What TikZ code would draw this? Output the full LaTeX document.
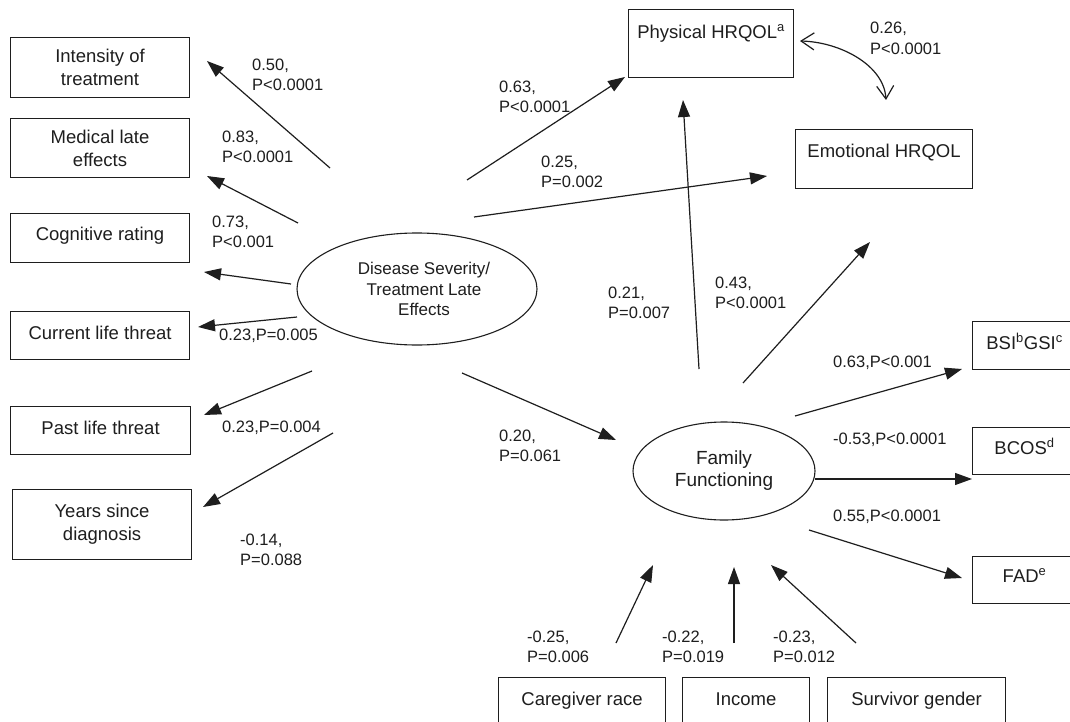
\documentclass[tikz,border=0pt]{standalone}
\usepackage{fontspec}
\setmainfont{Liberation Sans}
\usetikzlibrary{arrows.meta,shapes.geometric}
\definecolor{ink}{HTML}{1E1E1E}
\newcommand{\boxfont}{\fontsize{18.5}{23}\selectfont}
\newcommand{\lblfont}{\fontsize{16.5}{20.5}\selectfont}
\begin{document}
\begin{tikzpicture}[x=1pt,y=-1pt,
  every node/.style={text=ink},
  obsbox/.style={draw=ink, line width=1.1pt, inner sep=0pt, anchor=north west, font=\boxfont},
  lat/.style={draw=ink, ellipse, line width=1.1pt, inner sep=0pt, align=center},
  lbl/.style={inner sep=0pt, anchor=west, align=left, font=\lblfont},
  arr/.style={draw=ink, line width=1.2pt, -{Triangle[length=17pt,width=12pt]}},
  dbl/.style={draw=ink, line width=1.2pt, {Straight Barb[length=13pt,width=17pt]}-{Straight Barb[length=13pt,width=17pt]}}
]
\useasboundingbox (0,0) rectangle (1070,722);
\fill[white] (0,0) rectangle (1070,722);
\clip (0,0) rectangle (1070,722);

% left observed boxes
\node[obsbox, align=center, minimum width=179pt, minimum height=60pt] (int) at (10,37) {Intensity of\\treatment};
\node[obsbox, align=center, minimum width=179pt, minimum height=59pt] (med) at (10,118) {Medical late\\effects};
\node[obsbox, minimum width=179pt, text height=26.5pt, text depth=22.5pt] (cog) at (10,213) {Cognitive rating};
\node[obsbox, minimum width=179pt, text height=27.5pt, text depth=20.5pt] (cur) at (10,311) {Current life threat};
\node[obsbox, minimum width=180pt, text height=27.5pt, text depth=20.5pt] (past) at (10,406) {Past life threat};
\node[obsbox, align=center, minimum width=179pt, minimum height=70pt] (yrs) at (12,489) {Years since\\diagnosis};

% top boxes
\node[obsbox, minimum width=165pt, text height=28.5pt, text depth=39.5pt] (phys) at (628,9) {Physical HRQOL\textsuperscript{a}};
\node[obsbox, minimum width=177pt, text height=27.5pt, text depth=31.5pt] (emo) at (795,129) {Emotional HRQOL};

% right boxes
\node[obsbox, minimum width=104pt, text height=27.5pt, text depth=20.5pt] (bsi) at (972,321) {BSI\textsuperscript{b}GSI\textsuperscript{c}};
\node[obsbox, minimum width=104pt, text height=26.5pt, text depth=20.5pt] (bcos) at (972,427) {BCOS\textsuperscript{d}};
\node[obsbox, minimum width=104pt, text height=25.5pt, text depth=21.5pt] (fad) at (972,556) {FAD\textsuperscript{e}};

% bottom boxes
\node[obsbox, minimum width=167pt, text height=27.5pt, text depth=20.5pt] (care) at (498,677) {Caregiver race};
\node[obsbox, minimum width=127pt, text height=27.5pt, text depth=20.5pt] (inc) at (682,677) {Income};
\node[obsbox, minimum width=178pt, text height=27.5pt, text depth=20.5pt] (surv) at (827,677) {Survivor gender};

% latent variables
\node[lat, minimum width=240pt, minimum height=112pt, font=\fontsize{17}{20.5}\selectfont] (dis) at (417,289) {\hspace*{14pt}Disease Severity/\\\hspace*{14pt}Treatment Late\\\hspace*{14pt}Effects};
\node[lat, minimum width=182pt, minimum height=98pt, font=\fontsize{19}{22}\selectfont] (fam) at (724,471) {Family\\Functioning};

% connector end points
\coordinate (s1) at (330,168); \coordinate (t1) at (207,61);
\coordinate (s2) at (298,223); \coordinate (t2) at (207,176);
\coordinate (s3) at (291,284); \coordinate (t3) at (204,272);
\coordinate (s4) at (297,317); \coordinate (t4) at (198,327);
\coordinate (s5) at (312,371); \coordinate (t5) at (204,415);
\coordinate (s6) at (333,433); \coordinate (t6) at (203,507);
\coordinate (s7) at (467,180); \coordinate (t7) at (625,77);
\coordinate (s8) at (474,217); \coordinate (t8) at (767,176);
\coordinate (p9) at (800,41);  \coordinate (e9) at (886,100);
\coordinate (s10) at (699,369); \coordinate (t10) at (683,100);
\coordinate (s11) at (743,383); \coordinate (t11) at (870,242);
\coordinate (s12) at (462,373); \coordinate (t12) at (616,440);
\coordinate (s13) at (795,416); \coordinate (t13) at (962,369);
\coordinate (s14) at (815,479); \coordinate (t14) at (972,479);
\coordinate (s15) at (809,530); \coordinate (t15) at (962,578);
\coordinate (s16) at (616,643); \coordinate (t16) at (653,565);
\coordinate (s17) at (734,643); \coordinate (t17) at (734,567);
\coordinate (s18) at (856,643); \coordinate (t18) at (771,565);

\draw[arr] (s1) -- (t1);
\draw[arr] (s2) -- (t2);
\draw[arr] (s3) -- (t3);
\draw[arr] (s4) -- (t4);
\draw[arr] (s5) -- (t5);
\draw[arr] (s6) -- (t6);
\draw[arr] (s7) -- (t7);
\draw[arr] (s8) -- (t8);
\draw[dbl] (p9) .. controls (840,42) and (884,65) .. (e9);
\draw[arr] (s10) -- (t10);
\draw[arr] (s11) -- (t11);
\draw[arr] (s12) -- (t12);
\draw[arr] (s13) -- (t13);
\draw[arr] (s14) -- (t14);
\draw[arr] (s15) -- (t15);
\draw[arr] (s16) -- (t16);
\draw[arr] (s17) -- (t17);
\draw[arr] (s18) -- (t18);

% labels
\node[lbl] (l1) at (252,75) {0.50,\\P<0.0001};
\node[lbl] (l2) at (222,147) {0.83,\\P<0.0001};
\node[lbl] (l3) at (212,232) {0.73,\\P<0.001};
\node[lbl] (l4) at (219,336) {0.23,P=0.005};
\node[lbl] (l5) at (222,428) {0.23,P=0.004};
\node[lbl] (l6) at (240,550) {-0.14,\\P=0.088};
\node[lbl] (l7) at (499,97) {0.63,\\P<0.0001};
\node[lbl] (l8) at (541,172) {0.25,\\P=0.002};
\node[lbl] (l9) at (870,38.5) {0.26,\\P<0.0001};
\node[lbl] (l10) at (608,303) {0.21,\\P=0.007};
\node[lbl] (l11) at (715,293) {0.43,\\P<0.0001};
\node[lbl] (l12) at (499,446) {0.20,\\P=0.061};
\node[lbl] (l13) at (833,363) {0.63,P<0.001};
\node[lbl] (l14) at (833,440) {-0.53,P<0.0001};
\node[lbl] (l15) at (833,517) {0.55,P<0.0001};
\node[lbl] (l16) at (527,647) {-0.25,\\P=0.006};
\node[lbl] (l17) at (662,647) {-0.22,\\P=0.019};
\node[lbl] (l18) at (773,647) {-0.23,\\P=0.012};
\end{tikzpicture}
\end{document}
